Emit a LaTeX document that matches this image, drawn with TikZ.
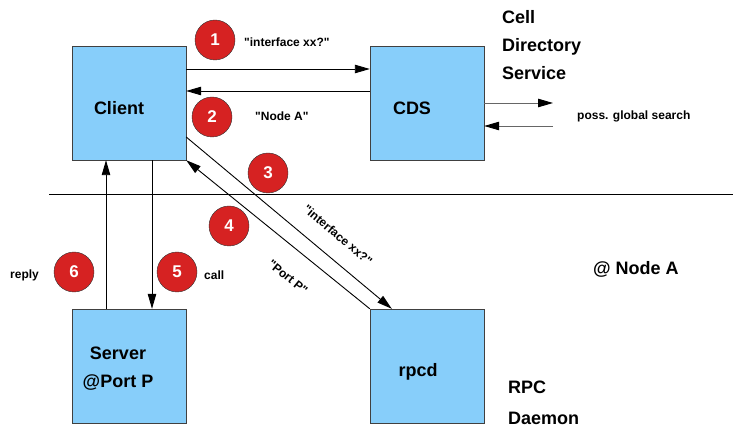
\documentclass[tikz,border=0pt]{standalone}
\usepackage{fontspec}
\setmainfont{Liberation Sans}
\usetikzlibrary{arrows.meta}
\definecolor{boxblue}{RGB}{135,206,250}
\definecolor{dotred}{RGB}{214,34,34}
\newcommand\quoted[1]{\textquotedbl#1\textquotedbl}

\begin{document}
\begin{tikzpicture}[x=1pt,y=-1pt,
    blockbox/.style={draw=black!75,fill=boxblue,minimum width=114pt,minimum height=114pt,inner sep=0pt},
    numdot/.style={circle,draw=black!80,fill=dotred,text=white,minimum size=40pt,inner sep=0pt,
      font=\bfseries\fontsize{17}{17}\selectfont},
    bigtext/.style={font=\bfseries\fontsize{18}{28}\selectfont,align=left,inner sep=0pt},
    smalltext/.style={font=\bfseries\fontsize{12}{14}\selectfont,inner sep=0pt},
    flow/.style={-{Triangle[length=15pt,width=8.5pt,color=black]},line width=0.9pt}]

  \useasboundingbox (0,0) rectangle (733,427);

  % boxes
  \node[blockbox] (client) at (129,103) {};
  \node[blockbox] (cds) at (427,103) {};
  \node[blockbox] (server) at (129,366) {};
  \node[blockbox] (rpcd) at (427,366) {};

  \node[bigtext] (clientlbl) at ([shift={(-10,5)}]client.center) {Client};
  \node[bigtext] (cdslbl) at ([shift={(-15,5)}]cds.center) {CDS};
  \node[bigtext,align=center] (serverlbl) at ([shift={(-11,3)}]server.center) {Server\\@Port P};
  \node[bigtext] (rpcdlbl) at ([shift={(-9,6)}]rpcd.center) {rpcd};

  \node[bigtext,anchor=west] (cdsname) at (502,45) {Cell\\Directory\\Service};
  \node[bigtext,anchor=west,font=\bfseries\fontsize{18}{31}\selectfont] (rpcdname) at (508,403) {RPC\\Daemon};
  \node[bigtext,anchor=west] (nodea) at (593,269) {@ Node A};

  % node boundary
  \coordinate (sepl) at (49,194);
  \coordinate (sepr) at (733,194);
  \draw[line width=0.9pt] (sepl) -- (sepr);

  % messages
  \draw[flow] ([yshift=34pt]client.east) -- ([yshift=34pt]cds.west);
  \draw[flow] ([yshift=12pt]cds.west) -- ([yshift=12pt]client.east);
  \draw[flow] ([yshift=-34pt]client.east) -- ([xshift=22pt]rpcd.north west);
  \draw[flow] (rpcd.north west) -- (client.south east);
  \draw[flow] ([xshift=23pt]client.south) -- ([xshift=23pt]server.north);
  \draw[flow] ([xshift=-23pt]server.north) -- ([xshift=-23pt]client.south);

  \coordinate (searchout) at (553,103);
  \coordinate (searchin) at (553,126);
  \draw[flow,draw=black!60] (cds.east) -- (searchout);
  \draw[flow,draw=black!60] (searchin) -- ([yshift=-23pt]cds.east);

  \node[smalltext,anchor=west] (q1) at (244,42) {\quoted{interface xx?}};
  \node[smalltext,anchor=west] (a1) at (255,116) {\quoted{Node A}};
  \node[smalltext,rotate=-40] (q2) at (338,235) {\quoted{interface xx?}};
  \node[smalltext,rotate=-39] (a2) at (288,277) {\quoted{Port P}};
  \node[smalltext,anchor=west] (replylbl) at (10,275) {reply};
  \node[smalltext,anchor=west] (calllbl) at (204,275) {call};
  \node[smalltext,anchor=west] (searchlbl) at (577,116) {poss. global search};

  % step numbers
  \node[numdot] (n1) at (215,40) {1};
  \node[numdot] (n2) at (212,117) {2};
  \node[numdot] (n3) at (268,173) {3};
  \node[numdot] (n4) at (229,226) {4};
  \node[numdot] (n5) at (177,272) {5};
  \node[numdot] (n6) at (74,272) {6};
\end{tikzpicture}
\end{document}
